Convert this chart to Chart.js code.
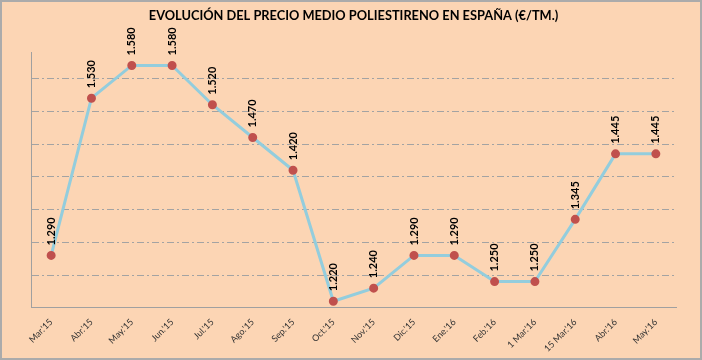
<!DOCTYPE html>
<html>
<head>
<meta charset="utf-8">
<script src="https://cdn.jsdelivr.net/npm/chart.js@4.4.1/dist/chart.umd.min.js"></script>
<style>
  html, body { margin: 0; padding: 0; background: #fff; }
  #box {
    width: 702px; height: 360px; box-sizing: border-box;
    border: 2px solid #ababab; background: #fcd5b4;
  }
  #box canvas { display: block; }
</style>
</head>
<body>
<div id="box"><canvas id="chart" width="698" height="356"></canvas></div>
<script>
const months = ["Mar.'15", "Abr.'15", "May.'15", "Jun.'15", "Jul.'15", "Ago.'15", "Sep.'15", "Oct.'15",
  "Nov.'15", "Dic.'15", "Ene.'16", "Feb.'16", "1 Mar.'16", "15 Mar.'16", "Abr.'16", "May.'16"]
const prices = [1290, 1530, 1580, 1580, 1520, 1470, 1420, 1220, 1240, 1290, 1290, 1250, 1250, 1345, 1445, 1445]
const gridValues = [1260, 1310, 1360, 1410, 1460, 1510, 1560]
const yMin = 1210
const yMax = 1600

// 1290 -> "1.290"
function fmt (v) {
  return Math.floor(v / 1000) + '.' + String(v % 1000).padStart(3, '0')
}

const pointLabels = {
  id: 'pointLabels',
  afterDatasetsDraw (chart) {
    const ctx = chart.ctx
    const meta = chart.getDatasetMeta(0)
    ctx.save()
    ctx.font = 'bold 11px Lato'
    ctx.fillStyle = '#000'
    ctx.textAlign = 'left'
    ctx.textBaseline = 'middle'
    meta.data.forEach((pt, i) => {
      ctx.save()
      ctx.translate(pt.x, pt.y - 10)
      ctx.rotate(-Math.PI / 2)
      ctx.fillText(fmt(prices[i]), 0, 0)
      ctx.restore()
    })
    ctx.restore()
  }
}

new Chart(document.getElementById('chart'), {
  type: 'line',
  data: {
    labels: months,
    datasets: [{
      data: prices,
      borderColor: '#93cddd',
      borderWidth: 3,
      backgroundColor: '#c0504d',
      pointBackgroundColor: '#c0504d',
      pointBorderColor: '#c0504d',
      pointRadius: 3,
      tension: 0,
      clip: false
    }]
  },
  options: {
    responsive: false,
    animation: false,
    layout: { padding: { left: 29, right: 24, top: 0, bottom: 3 } },
    plugins: {
      legend: { display: false },
      tooltip: { enabled: false },
      title: {
        display: true,
        text: 'EVOLUCIÓN DEL PRECIO MEDIO POLIESTIRENO EN ESPAÑA (€/TM.)',
        color: '#000',
        font: { family: 'Lato', size: 12.8, weight: 'bold' },
        padding: { top: 6, bottom: 29 }
      }
    },
    scales: {
      x: {
        offset: true,
        grid: { display: false },
        border: { display: true, color: '#a0a0a0', width: 1 },
        ticks: {
          color: '#333',
          font: { family: 'Lato', size: 9 },
          minRotation: 45,
          maxRotation: 45,
          autoSkip: false,
          padding: 1
        }
      },
      y: {
        min: yMin,
        max: yMax,
        afterBuildTicks (scale) {
          scale.ticks = gridValues.map(v => ({ value: v }))
        },
        grid: {
          color: '#a3a3a3',
          lineWidth: 1,
          drawTicks: false
        },
        border: { display: true, color: '#a0a0a0', width: 1, dash: [7, 3, 2, 3] },
        ticks: { display: false }
      }
    }
  },
  plugins: [pointLabels]
})
</script>
</body>
</html>
